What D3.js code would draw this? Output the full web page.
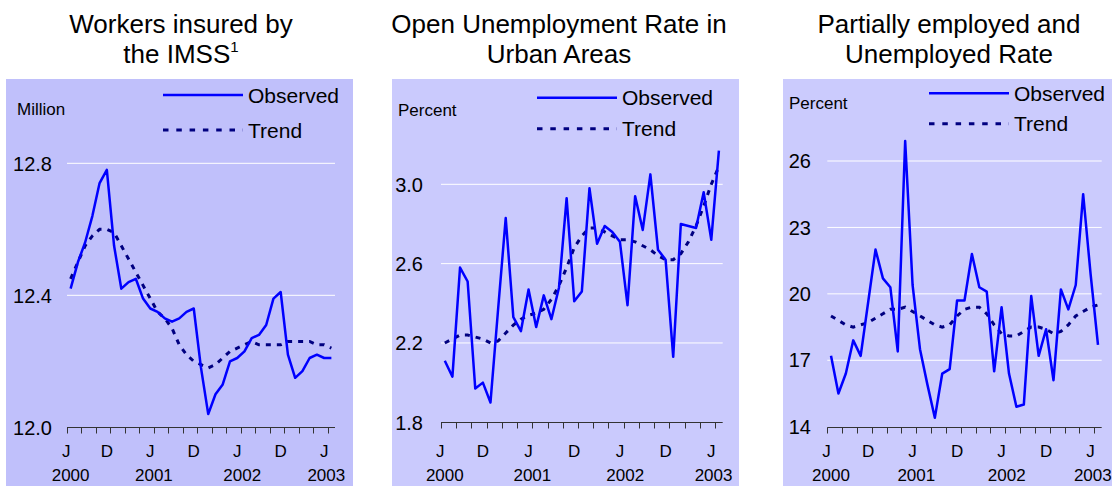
<!DOCTYPE html>
<html>
<head>
<meta charset="utf-8">
<script src="https://cdn.jsdelivr.net/npm/d3@7"></script>
<style>
  body { margin: 0; background: #fff; }
  svg { display: block; font-family: "Liberation Sans", Arial, sans-serif; }
</style>
</head>
<body>
<script>
// monthly series, index 0 = Jul 2000 ... 36 = Jul 2003
var imssObserved = [12.42, 12.50, 12.56, 12.64, 12.74, 12.78, 12.55, 12.42, 12.44, 12.45, 12.39, 12.36,
  12.35, 12.33, 12.32, 12.33, 12.35, 12.36, 12.18, 12.04, 12.10, 12.13, 12.20, 12.21,
  12.23, 12.27, 12.28, 12.31, 12.39, 12.41, 12.22, 12.15, 12.17, 12.21, 12.22, 12.21, 12.21];
var imssTrend = [12.45, 12.50, 12.55, 12.58, 12.60, 12.60, 12.59, 12.55, 12.51, 12.47, 12.43, 12.39,
  12.35, 12.33, 12.30, 12.25, 12.22, 12.20, 12.19, 12.18, 12.19, 12.21, 12.23, 12.24,
  12.25, 12.26, 12.25, 12.25, 12.25, 12.25, 12.26, 12.26, 12.26, 12.26, 12.25, 12.25, 12.24];

var urbanObserved = [2.11, 2.03, 2.58, 2.51, 1.97, 2.00, 1.90, 2.37, 2.83, 2.33, 2.26, 2.47,
  2.28, 2.44, 2.32, 2.48, 2.93, 2.41, 2.46, 2.98, 2.70, 2.79, 2.76, 2.71,
  2.39, 2.94, 2.77, 3.05, 2.67, 2.62, 2.13, 2.80, 2.79, 2.78, 2.96, 2.72, 3.17];
var urbanTrend = [2.20, 2.22, 2.24, 2.24, 2.23, 2.22, 2.20, 2.21, 2.25, 2.29, 2.32, 2.34,
  2.35, 2.37, 2.42, 2.49, 2.58, 2.68, 2.74, 2.78, 2.78, 2.76, 2.74, 2.72,
  2.72, 2.71, 2.69, 2.67, 2.64, 2.62, 2.62, 2.65, 2.71, 2.79, 2.89, 3.00, 3.09];

var partialObserved = [17.2, 15.5, 16.4, 17.9, 17.2, 19.6, 22.0, 20.7, 20.3, 17.4, 26.9, 20.4,
  17.5, 15.9, 14.4, 16.4, 16.6, 19.7, 19.7, 21.8, 20.3, 20.1, 16.5, 19.4,
  16.4, 14.9, 15.0, 19.9, 17.2, 18.4, 16.1, 20.2, 19.3, 20.4, 24.5, 20.9, 17.7];
var partialTrend = [19.0, 18.8, 18.6, 18.5, 18.6, 18.7, 18.9, 19.1, 19.3, 19.3, 19.4, 19.2,
  19.0, 18.8, 18.6, 18.5, 18.6, 19.0, 19.3, 19.4, 19.4, 19.1, 18.6, 18.2,
  18.1, 18.1, 18.3, 18.5, 18.5, 18.4, 18.2, 18.3, 18.6, 19.0, 19.2, 19.4, 19.5];

var imssTicks = [12.0, 12.4, 12.8];
var urbanTicks = [1.8, 2.2, 2.6, 3.0];
var partialTicks = [14, 17, 20, 23, 26];

var monthLabels = ["J", "D", "J", "D", "J", "D", "J"];
var monthLabelAt = [-0.6, 5, 11, 17, 23, 29, 35];   // month index
var yearLabels = ["2000", "2001", "2002", "2003"];
var yearLabelAt = [0, 11.5, 23.7, 35.3];

var W = 1112, H = 486;
var svg = d3.select("body").append("svg").attr("width", W).attr("height", H);

var panels = [
  { title: ["Workers insured by", "the IMSS"], sup: "1", unit: "Million",
    obs: imssObserved, trend: imssTrend, ticks: imssTicks, fmt: d3.format(".1f"),
    bg: [6, 353], bgColor: "#c0c0fb", x: [67, 335], y: [427.3, 163.3], tickRight: 52,
    unitPos: [17, 115], leg: [163, 243, 95, 130], titleX: 181 },
  { title: ["Open Unemployment Rate in", "Urban Areas"], unit: "Percent",
    obs: urbanObserved, trend: urbanTrend, ticks: urbanTicks, fmt: d3.format(".1f"),
    bg: [392, 739], bgColor: "#cacafd", x: [441, 722.7], y: [422.3, 184.3], tickRight: 423,
    unitPos: [398, 116], leg: [537, 617, 97.7, 128.7], titleX: 559 },
  { title: ["Partially employed and", "Unemployed Rate"], unit: "Percent",
    obs: partialObserved, trend: partialTrend, ticks: partialTicks, fmt: d3.format("d"),
    bg: [783, 1112], bgColor: "#cbcbfd", x: [827.3, 1101.7], y: [426.7, 161], tickRight: 811,
    unitPos: [789, 109], leg: [929, 1009, 93.3, 123.7], titleX: 949 }
];

panels.forEach(function(p) {
  var g = svg.append("g");

  // titles
  p.title.forEach(function(t, i) {
    var tx = g.append("text")
      .attr("x", p.titleX).attr("y", 33 + i * 30)
      .attr("text-anchor", "middle")
      .attr("font-size", 26).attr("fill", "#000")
      .text(t);
    if (i == 1 && p.sup) {
      tx.append("tspan").attr("font-size", 15).attr("dy", -11).text(p.sup);
    }
  });

  g.append("rect")
    .attr("x", p.bg[0]).attr("y", 79)
    .attr("width", p.bg[1] - p.bg[0]).attr("height", H - 79)
    .attr("fill", p.bgColor);

  var x = d3.scaleLinear().domain([-0.5, 36.5]).range(p.x);
  var y = d3.scaleLinear().domain([p.ticks[0], p.ticks[p.ticks.length - 1]]).range(p.y);

  // gridlines
  g.selectAll(".grid").data(p.ticks.slice(1)).enter().append("line")
    .attr("x1", p.x[0]).attr("x2", p.x[1])
    .attr("y1", d => y(d)).attr("y2", d => y(d))
    .attr("stroke", "#fff").attr("stroke-width", 1);

  // y labels
  g.selectAll(".ylab").data(p.ticks).enter().append("text")
    .attr("x", p.tickRight).attr("y", d => y(d)).attr("dy", "0.36em")
    .attr("text-anchor", "end").attr("font-size", 20).attr("fill", "#000")
    .text(p.fmt);

  g.append("text").attr("x", p.unitPos[0]).attr("y", p.unitPos[1])
    .attr("font-size", 17).attr("fill", "#000").text(p.unit);

  // x axis with a tick every two months
  var y0 = Math.round(p.y[0]) + 0.5;
  g.append("line").attr("x1", p.x[0]).attr("x2", p.x[1])
    .attr("y1", y0).attr("y2", y0).attr("stroke", "#333").attr("stroke-width", 1);
  g.selectAll(".tk").data(d3.range(-0.5, 36, 2)).enter().append("line")
    .attr("x1", d => Math.round(x(d)) + 0.5).attr("x2", d => Math.round(x(d)) + 0.5)
    .attr("y1", y0).attr("y2", y0 + 6)
    .attr("stroke", "#333").attr("stroke-width", 1);

  g.selectAll(".mlab").data(monthLabels).enter().append("text")
    .attr("x", (d, i) => x(monthLabelAt[i])).attr("y", 457)
    .attr("text-anchor", "middle").attr("font-size", 17).attr("fill", "#000")
    .text(d => d);
  g.selectAll(".ylab2").data(yearLabels).enter().append("text")
    .attr("x", (d, i) => x(yearLabelAt[i])).attr("y", 481)
    .attr("text-anchor", "middle").attr("font-size", 17).attr("fill", "#000")
    .text(d => d);

  var line = d3.line().x((d, i) => x(i)).y(d => y(d));

  g.append("path").datum(p.trend).attr("d", line)
    .attr("fill", "none").attr("stroke", "#000080").attr("stroke-width", 3)
    .attr("stroke-dasharray", "5,6");
  g.append("path").datum(p.obs).attr("d", line)
    .attr("fill", "none").attr("stroke", "#0000ff").attr("stroke-width", 2.5)
    .attr("stroke-linejoin", "round");

  // legend
  var L = p.leg;
  g.append("line").attr("x1", L[0]).attr("x2", L[1]).attr("y1", L[2]).attr("y2", L[2])
    .attr("stroke", "#0000ff").attr("stroke-width", 2.5);
  g.append("line").attr("x1", L[0]).attr("x2", L[1]).attr("y1", L[3]).attr("y2", L[3])
    .attr("stroke", "#000080").attr("stroke-width", 3).attr("stroke-dasharray", "5.5,7.8");
  g.append("text").attr("x", L[1] + 5).attr("y", L[2]).attr("dy", "0.36em")
    .attr("font-size", 21).attr("fill", "#000").text("Observed");
  g.append("text").attr("x", L[1] + 5).attr("y", L[3]).attr("dy", "0.36em")
    .attr("font-size", 21).attr("fill", "#000").text("Trend");
});
</script>
</body>
</html>
